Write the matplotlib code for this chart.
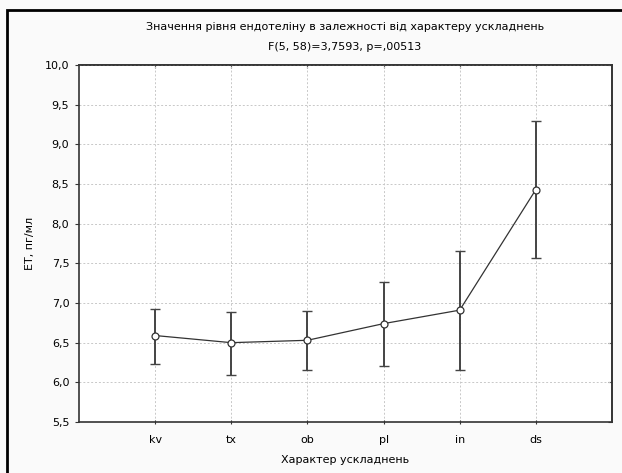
import matplotlib
matplotlib.use("Agg")
import matplotlib.pyplot as plt
from matplotlib.patches import Rectangle

#+++ Data
groups = ["kv", "tx", "ob", "pl", "in", "ds"]
means = [6.59, 6.50, 6.53, 6.74, 6.91, 8.43]
upper = [6.92, 6.89, 6.90, 7.26, 7.65, 9.29]
lower = [6.23, 6.09, 6.15, 6.20, 6.16, 7.57]
yticks = [5.5, 6.0, 6.5, 7.0, 7.5, 8.0, 8.5, 9.0, 9.5, 10.0]
title1 = "Значення рівня ендотеліну в залежності від характеру ускладнень"
title2 = "F(5, 58)=3,7593, p=,00513"
xlabel = "Характер ускладнень"
ylabel = "ET, пг/мл"
#---

plt.rcParams["font.family"] = ["DejaVu Sans"]
plt.rcParams["font.size"] = 8

fig = plt.figure(figsize=(6.22, 4.73), dpi=100, facecolor="#fafafa")
ax = fig.add_axes([79 / 622, 1 - 422 / 473, (612 - 79) / 622, (422 - 65) / 473])
ax.set_facecolor("white")

x = list(range(1, len(groups) + 1))
yerr = [[m - lo for m, lo in zip(means, lower)], [up - m for m, up in zip(means, upper)]]
ax.errorbar(x, means, yerr=yerr, fmt="none", ecolor="#444444", elinewidth=1.4, capsize=3.5, capthick=1.0, zorder=2)
ax.plot(x, means, "-", color="#333333", lw=0.9, zorder=3)
ax.plot(x, means, "o", ms=5, mfc="white", mec="#333333", mew=0.9, zorder=4)

ax.set_xlim(0, len(groups) + 1)
ax.set_ylim(5.5, 10.0)
ax.set_xticks(x)
ax.set_xticklabels(groups)
ax.set_yticks(yticks)
ax.set_yticklabels([f"{v:.1f}".replace(".", ",") for v in yticks])
ax.grid(True, color="#c8c8c8", linestyle=(0, (2, 2)), linewidth=0.7)
ax.set_axisbelow(True)

for s in ax.spines.values():
    s.set_color("#333333")
    s.set_linewidth(1.2)
ax.tick_params(axis="y", direction="out", length=3, width=0.8, color="#333333", pad=4)
ax.tick_params(axis="x", direction="inout", length=3, width=0.8, color="#333333", pad=8)

# inward ticks on the right and top spines
sec_r = ax.secondary_yaxis("right")
sec_r.set_yticks(yticks)
sec_r.tick_params(direction="in", length=3, width=0.8, color="#333333", labelright=False)
sec_r.spines["right"].set_color("#333333")
sec_r.spines["right"].set_linewidth(1.2)
sec_t = ax.secondary_xaxis("top")
sec_t.set_xticks(x)
sec_t.tick_params(direction="in", length=2, width=0.8, color="#333333", labeltop=False)
sec_t.spines["top"].set_color("#333333")
sec_t.spines["top"].set_linewidth(1.2)

ax.set_xlabel(xlabel, labelpad=7)
ax.set_ylabel(ylabel, labelpad=7)

fig.text(345 / 622, 1 - 27 / 473, title1, ha="center", va="center", fontsize=8)
fig.text(345 / 622, 1 - 47 / 473, title2, ha="center", va="center", fontsize=8)

# outer black frame
fig.patches.append(Rectangle((7 / 622, -0.1), 1.2, 1 - 10 / 473 + 0.1, transform=fig.transFigure,
                             fill=False, edgecolor="black", linewidth=2))

fig.savefig("out.png", dpi=100, facecolor=fig.get_facecolor())
